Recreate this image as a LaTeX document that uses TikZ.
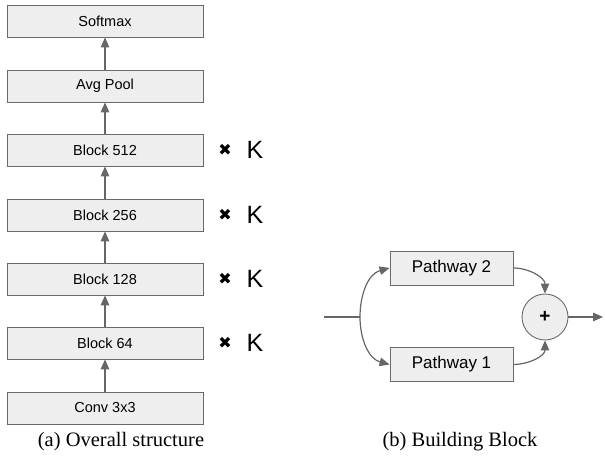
\documentclass[tikz,border=0pt]{standalone}
\usepackage{fontspec}
\setmainfont{Liberation Serif}
\newfontfamily\arialf{Liberation Sans}
\newfontfamily\djv{DejaVu Sans}
\usetikzlibrary{arrows.meta}
\definecolor{boxfill}{HTML}{EEEEEE}
\definecolor{boxline}{HTML}{6A6A6A}
\definecolor{arrowc}{HTML}{666666}
\tikzset{
  layerbox/.style={draw=boxline, fill=boxfill, line width=0.9pt, minimum width=196pt, minimum height=32pt, inner sep=0pt, font=\arialf\fontsize{14.5}{16}\selectfont},
  pathbox/.style={draw=boxline, fill=boxfill, line width=0.9pt, minimum width=123pt, minimum height=34pt, inner sep=0pt, font=\arialf\fontsize{17}{19}\selectfont},
  flow/.style={draw=arrowc, line width=1.4pt, -{Triangle[length=10pt,width=8.5pt]}},
  plainline/.style={draw=arrowc, line width=1.2pt},
  times/.style={font=\djv\fontsize{16}{18}\selectfont, text=black, inner sep=0pt},
  kl/.style={font=\arialf\fontsize{25}{28}\selectfont, inner sep=0pt},
  caption/.style={font=\fontsize{20.5}{24}\selectfont, inner sep=0pt}
}
\begin{document}
\begin{tikzpicture}[x=1pt,y=-1pt]
\useasboundingbox (0,0) rectangle (605,460);
% left column
\node[layerbox] (soft) at (105,21) {Softmax};
\node[layerbox] (avg) at (105,86) {Avg Pool};
\node[layerbox] (b512) at (105,150) {Block 512};
\node[layerbox] (b256) at (105,215) {Block 256};
\node[layerbox] (b128) at (105,279) {Block 128};
\node[layerbox] (b64) at (105,343) {Block 64};
\node[layerbox] (conv) at (105,408) {Conv 3x3};
\draw[flow] (conv) -- (b64);
\draw[flow] (b64) -- (b128);
\draw[flow] (b128) -- (b256);
\draw[flow] (b256) -- (b512);
\draw[flow] (b512) -- (avg);
\draw[flow] (avg) -- (soft);
% x K labels
\foreach \n/\yy in {a/150,b/215,c/279,d/343}{
  \node[times] (x\n) at (225,\yy) {✖};
  \node[kl] (k\n) at (255,\yy) {K};
}
% captions
\node[caption] (capa) at (121,442) {(a) Overall structure};
\node[caption] (capb) at (460,442) {(b) Building Block};
% right diagram
\node[pathbox] (p2) at (451.5,268) {Pathway 2};
\node[pathbox] (p1) at (451.5,364.5) {Pathway 1};
\node[circle, draw=boxline, fill=boxfill, line width=0.9pt, minimum size=46pt, inner sep=0pt, font=\arialf\bfseries\fontsize{19}{20}\selectfont] (plus) at (545,317) {+};
\coordinate (in) at (324,317);
\coordinate (split) at (360,317);
\coordinate (out) at (603,317);
\draw[plainline] (in) -- (split);
\draw[flow, line width=1.2pt] (split) to[out=90,in=195] (p2.west);
\draw[flow, line width=1.2pt] (split) to[out=-90,in=165] (p1.west);
\draw[flow, line width=1.2pt] (p2.east) to[out=0,in=90] (plus.north);
\draw[flow, line width=1.2pt] (p1.east) to[out=0,in=-90] (plus.south);
\draw[flow, line width=1.2pt] (plus.east) -- (out);
\end{tikzpicture}
\end{document}
